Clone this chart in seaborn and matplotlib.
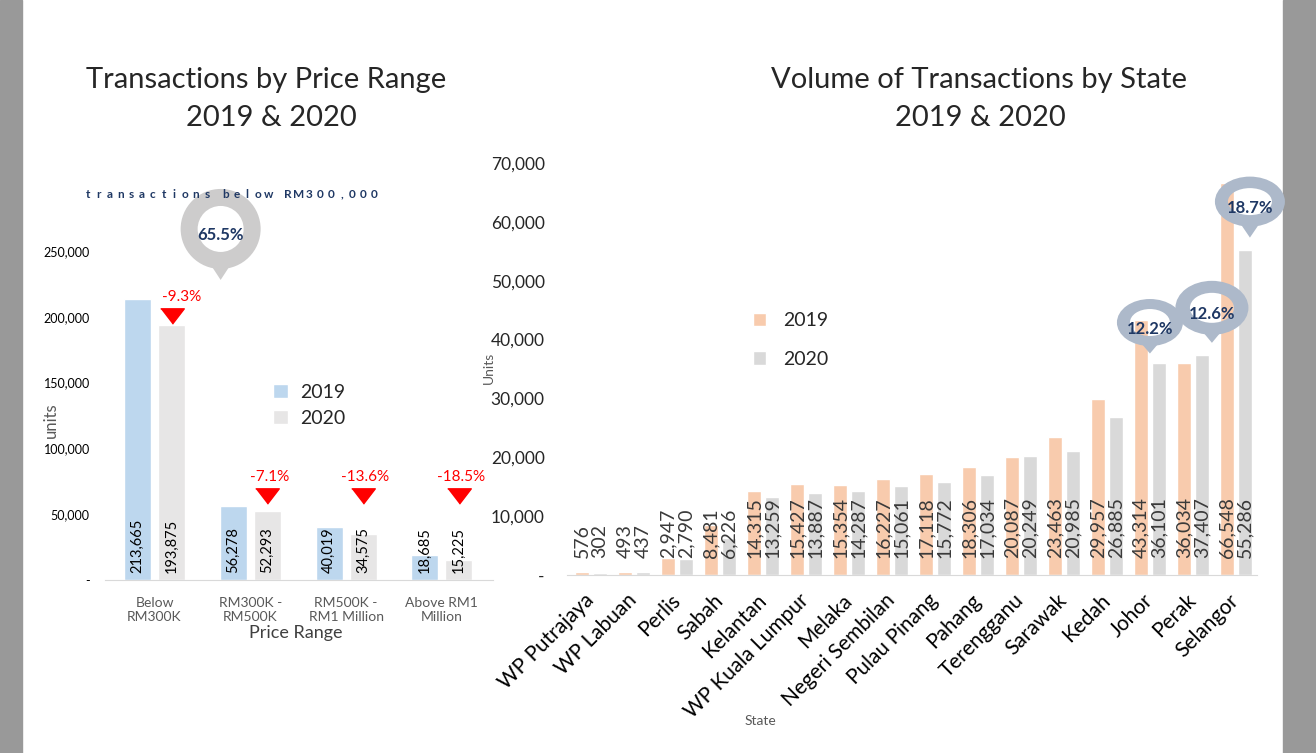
import matplotlib
matplotlib.use("Agg")
import matplotlib.pyplot as plt
import seaborn as sns
import pandas as pd
from matplotlib.patches import Rectangle, Polygon, PathPatch, Patch
from matplotlib.path import Path
from matplotlib.transforms import Affine2D
from matplotlib.ticker import FuncFormatter, MultipleLocator

# ---- data ----
price_ranges = ["Below\nRM300K", "RM300K -\nRM500K", "RM500K -\nRM1 Million", "Above RM1\nMillion"]
price_2019 = [213665, 56278, 40019, 18685]
price_2020 = [193875, 52293, 34575, 15225]
price_change = ["-9.3%", "-7.1%", "-13.6%", "-18.5%"]
below_share = "65.5%"

states = ["WP Putrajaya", "WP Labuan", "Perlis", "Sabah", "Kelantan", "WP Kuala Lumpur",
          "Melaka", "Negeri Sembilan", "Pulau Pinang", "Pahang", "Terengganu", "Sarawak",
          "Kedah", "Johor", "Perak", "Selangor"]
state_2019 = [576, 493, 2947, 8481, 14315, 15427, 15354, 16227, 17118, 18306, 20087,
              23463, 29957, 43314, 36034, 66548]
state_2020 = [302, 437, 2790, 6226, 13259, 13887, 14287, 15061, 15772, 17034, 20249,
              20985, 26885, 36101, 37407, 55286]
share_states = ["Johor", "Perak", "Selangor"]
share_labels = ["12.2%", "12.6%", "18.7%"]
years = ["2019", "2020"]

price_df = pd.DataFrame({"range": price_ranges * 2,
                         "year": [years[0]] * 4 + [years[1]] * 4,
                         "units": price_2019 + price_2020})
state_df = pd.DataFrame({"state": states * 2,
                         "year": [years[0]] * 16 + [years[1]] * 16,
                         "units": state_2019 + state_2020})

sns.set_style("white")
plt.rcParams["font.family"] = ["Lato", "DejaVu Sans"]

W, H = 1316, 753
fig = plt.figure(figsize=(W / 100, H / 100), dpi=100)
fig.patch.set_facecolor("white")
# grey window frame on both sides
fig.patches.append(Rectangle((0, 0), 22 / W, 1, transform=fig.transFigure, color="#999999", zorder=0))
fig.patches.append(Rectangle((1283 / W, 0), 33 / W, 1, transform=fig.transFigure, color="#999999", zorder=0))

fmt = FuncFormatter(lambda v, p: "-" if v == 0 else f"{int(v):,}")
navy = "#1f3864"

# ---- left chart ----
ax1 = fig.add_axes([105 / W, 1 - 580 / H, 388 / W, 329 / H])
blue_pal = ["#bdd7ee", "#e7e6e6"]
sns.barplot(data=price_df, x="range", y="units", hue="year", palette=blue_pal,
            width=0.71, gap=0.206, saturation=1, legend=False, ax=ax1)
ax1.set_xlim(-0.517, 3.533)
ax1.set_ylim(0, 250000)
ax1.yaxis.set_major_locator(MultipleLocator(50000))
ax1.yaxis.set_major_formatter(fmt)
for s in ["top", "right", "left"]:
    ax1.spines[s].set_visible(False)
ax1.spines["bottom"].set_color("#d9d9d9")
ax1.tick_params(axis="y", length=0, pad=11, labelsize=9, labelcolor="black")
ax1.tick_params(axis="x", length=0, pad=12, labelsize=10, labelcolor="#595959")
ax1.set_xlabel("Price Range", fontsize=13, color="#404040")
ax1.xaxis.set_label_coords(0.492, -0.137)
ax1.set_ylabel("units", fontsize=12, color="#595959")
ax1.yaxis.set_label_coords(-0.12, 0.486)

for bar in ax1.patches:
    ax1.annotate(f"{int(round(bar.get_height())):,}", (bar.get_x() + bar.get_width() / 2, 0),
                 xytext=(0, 5), textcoords="offset points", rotation=90,
                 ha="center", va="bottom", fontsize=10.5, color="black")

tri = [(-1, 0.65), (1, 0.65), (0, -0.65)]
for i, (v, lab) in enumerate(zip(price_2020, price_change)):
    x = i + 0.178
    y = max(v + 7000, 64000)
    ax1.plot([x], [y], marker=tri, markersize=17, color="red", linestyle="none", clip_on=False)
    ax1.text(x + (0.1 if i == 0 else 0.02), y + 14500, lab, ha="center", va="center",
             fontsize=11, color="red")

ax1.legend([Patch(facecolor=c) for c in blue_pal], years, loc="upper left",
           bbox_to_anchor=(0.433, 0.596), frameon=False, fontsize=14,
           handlelength=0.75, handleheight=0.75, handletextpad=0.64,
           labelspacing=0.45, borderpad=0, borderaxespad=0)

# ---- right chart ----
ax2 = fig.add_axes([567 / W, 1 - 575 / H, 690 / W, 412 / H])
peach_pal = ["#f8cbad", "#d9d9d9"]
sns.barplot(data=state_df, x="state", y="units", hue="year", palette=peach_pal,
            width=0.837, gap=0.222, saturation=1, legend=False, ax=ax2)
ax2.set_xlim(-0.558, 15.49)
ax2.set_ylim(0, 70000)
ax2.yaxis.set_major_locator(MultipleLocator(10000))
ax2.yaxis.set_major_formatter(fmt)
for s in ["top", "right", "left"]:
    ax2.spines[s].set_visible(False)
ax2.spines["bottom"].set_color("#d9d9d9")
ax2.tick_params(axis="y", length=0, pad=16, labelsize=12.5, labelcolor="#262626")
ax2.tick_params(axis="x", length=0, pad=16)
ax2.set_xticks(range(len(states)))
ax2.set_xticklabels(states, rotation=45, ha="right", va="center",
                    rotation_mode="anchor", fontsize=15, color="black")
ax2.set_xlabel("State", fontsize=10, color="#595959")
ax2.xaxis.set_label_coords(0.28, -0.34)
ax2.set_ylabel("Units", fontsize=10, color="#595959")
ax2.yaxis.set_label_coords(-0.105, 0.502)

for bar in ax2.patches:
    ax2.annotate(f"{int(round(bar.get_height())):,}", (bar.get_x() + bar.get_width() / 2, 0),
                 xytext=(0, 12.5), textcoords="offset points", rotation=90,
                 ha="center", va="bottom", fontsize=14, color="#3a3a3a")

ax2.legend([Patch(facecolor=c) for c in peach_pal], years, loc="upper left",
           bbox_to_anchor=(0.269, 0.638), frameon=False, fontsize=14,
           handlelength=0.7, handleheight=0.7, handletextpad=0.85,
           labelspacing=1.1, borderpad=0, borderaxespad=0)

# ---- titles ----
fig.text(266 / W, 1 - 80 / H, "Transactions by Price Range", ha="center", va="center", fontsize=21)
fig.text(271 / W, 1 - 118 / H, "2019 & 2020", ha="center", va="center", fontsize=21)
fig.text(979 / W, 1 - 80 / H, "Volume of Transactions by State", ha="center", va="center", fontsize=21)
fig.text(980 / W, 1 - 118 / H, "2019 & 2020", ha="center", va="center", fontsize=21)

# letter-spaced note, kept above the bubble
px = 88
for ch in "transactions below RM300,000":
    if ch == " ":
        px += 8
        continue
    fig.text(px / W, 1 - 194 / H, ch, ha="center", va="center", fontsize=8.5,
             fontweight="bold", color=navy, zorder=20)
    px += 10.8

# ---- callout bubbles drawn in pixel space ----
ov = fig.add_axes([0, 0, 1, 1], zorder=5)
ov.set_xlim(0, W)
ov.set_ylim(H, 0)
ov.axis("off")
ov.patch.set_alpha(0)


def to_px(ax, x, y):
    dx, dy = ax.transData.transform((x, y))
    return dx, H - dy


def bubble(tip, outer, inner, lift, color, text):
    tx, ty = tip
    cx, cy = tx, ty - lift
    ow, oh = outer
    iw, ih = inner
    circ = Path.unit_circle()
    o = Affine2D().scale(ow / 2, oh / 2).translate(cx, cy).transform_path(circ)
    i = Affine2D().scale(-iw / 2, ih / 2).translate(cx, cy).transform_path(circ)
    ov.add_patch(PathPatch(Path.make_compound_path(o, i), facecolor=color, edgecolor="none"))
    base_y = cy + ih / 2 + (oh - ih) / 2 * 0.35
    hw = ow * 0.18
    ov.add_patch(Polygon([(cx - hw, base_y), (cx + hw, base_y), (tx, ty)],
                         closed=True, facecolor=color, edgecolor="none"))
    ov.text(cx, cy + 6, text, ha="center", va="center", fontsize=12,
            fontweight="bold", color=navy)


bubble(to_px(ax1, 0.69, 228000), (80, 80), (46, 46), 51, "#cdcccc", below_share)
offsets = {"Johor": (-9, -9), "Perak": (10, -12), "Selangor": (5, -12)}
sizes = {"Johor": ((66, 47), (40, 27), 31), "Perak": ((73, 54), (44, 30), 35),
         "Selangor": ((70, 50), (44, 27), 36)}
for s, lab in zip(share_states, share_labels):
    k = states.index(s)
    bx, by = to_px(ax2, k + 0.209, state_2020[k])
    dx, dy = offsets[s]
    outer, inner, lift = sizes[s]
    bubble((bx + dx, by + dy), outer, inner, lift, "#adb9ca", lab)

fig.savefig("out.png", dpi=100)
